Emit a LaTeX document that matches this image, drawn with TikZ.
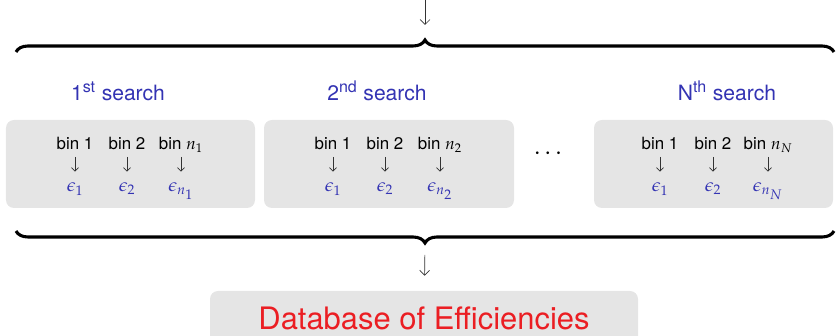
\documentclass[tikz,border=0pt]{standalone}
\usepackage{mathpazo}
\usepackage{fontspec}
\setmainfont{TeX Gyre Heros}
\setsansfont{TeX Gyre Heros}
\usetikzlibrary{arrows.meta, decorations.pathreplacing}
\definecolor{structure}{RGB}{51,51,179}
\definecolor{boxgray}{RGB}{229,229,229}
\definecolor{alertred}{RGB}{235,30,35}

\begin{document}
\begin{tikzpicture}[
    font=\sffamily,
    search/.style={text=structure, font=\sffamily\fontsize{15}{18}\selectfont},
    box/.style={fill=boxgray, rounded corners=0.2cm, minimum height=2.2cm},
    bin/.style={anchor=base, inner sep=0pt, text height=8pt, text depth=5pt, font=\sffamily\fontsize{12}{14}\selectfont},
    eff/.style={anchor=base, inner sep=0pt, text height=14pt, text depth=3pt, text=structure, font=\fontsize{13}{15}\selectfont},
    arrow/.style={black!80, line width=0.5pt, -{Straight Barb[length=2.5pt, width=5pt]}},
    bigarrow/.style={arrow, -{Straight Barb[length=3.5pt, width=7pt]}},
    brace/.style={decorate, decoration={brace, amplitude=0.3cm}, line width=2.2pt},
    db/.style={fill=boxgray, rounded corners=0.2cm, minimum width=10.7cm, minimum height=1.35cm, text=alertred, font=\sffamily\fontsize{22}{26}\selectfont}
]
\clip (0,0) rectangle (21,8.4);

% input from above
\coordinate (in) at (10.625,8.4);
\coordinate (top) at (10.625,7.4);
\draw[bigarrow, shorten >=0.375cm] (in) -- (top);
\draw[brace] (0.4,7.1) -- (20.85,7.1);

\node[search] (s1) at (2.95,6.125) {1\textsuperscript{st} search};
\node[search] (s2) at (9.425,6.125) {2\textsuperscript{nd} search};
\node[search] (sN) at (18.175,6.125) {N\textsuperscript{th} search};

\node[box, minimum width=6.225cm] (box1) at (3.2625,4.3) {};
\node[box, minimum width=6.25cm] (box2) at (9.725,4.3) {};
\node[box, minimum width=5.975cm] (boxN) at (17.8375,4.3) {};

% first search
\node[bin] (b11) at (1.875,4.6625) {bin 1};
\node[bin] (b12) at (3.175,4.6625) {bin 2};
\node[bin] (b1n) at (4.525,4.6625) {bin $n_1$};
\node[eff] (e11) at (1.875,3.6075) {$\epsilon_1$};
\node[eff] (e12) at (3.175,3.6075) {$\epsilon_2$};
\node[eff] (e1n) at (4.525,3.6075) {$\epsilon_{n_{\scriptstyle 1}}$};
\draw[arrow] (b11) -- (e11);
\draw[arrow] (b12) -- (e12);
\draw[arrow] (b1n) -- (e1n);

% second search
\node[bin] (b21) at (8.325,4.6625) {bin 1};
\node[bin] (b22) at (9.625,4.6625) {bin 2};
\node[bin] (b2n) at (11.0,4.6625) {bin $n_2$};
\node[eff] (e21) at (8.325,3.6075) {$\epsilon_1$};
\node[eff] (e22) at (9.625,3.6075) {$\epsilon_2$};
\node[eff] (e2n) at (11.0,3.6075) {$\epsilon_{n_{\scriptstyle 2}}$};
\draw[arrow] (b21) -- (e21);
\draw[arrow] (b22) -- (e22);
\draw[arrow] (b2n) -- (e2n);

\node[inner sep=0pt, font=\fontsize{17}{20}\selectfont] (dots) at (13.7,4.575) {$\ldots$};

% last search
\node[bin] (bN1) at (16.5,4.6625) {bin 1};
\node[bin] (bN2) at (17.825,4.6625) {bin 2};
\node[bin] (bNn) at (19.2,4.6625) {bin $n_N$};
\node[eff] (eN1) at (16.5,3.6075) {$\epsilon_1$};
\node[eff] (eN2) at (17.825,3.6075) {$\epsilon_2$};
\node[eff] (eNn) at (19.2,3.6075) {$\epsilon_{n_{\scriptstyle N}}$};
\draw[arrow] (bN1) -- (eN1);
\draw[arrow] (bN2) -- (eN2);
\draw[arrow] (bNn) -- (eNn);

% collect
\draw[brace, decoration={mirror}] (0.4,2.625) -- (20.85,2.625);
\coordinate (bot) at (10.625,2.25);
\node[db] (db) at (10.6,0.45) {Database of Efficiencies};
\draw[bigarrow, shorten <=0.225cm, shorten >=0.375cm] (bot) -- (db);

\end{tikzpicture}
\end{document}
